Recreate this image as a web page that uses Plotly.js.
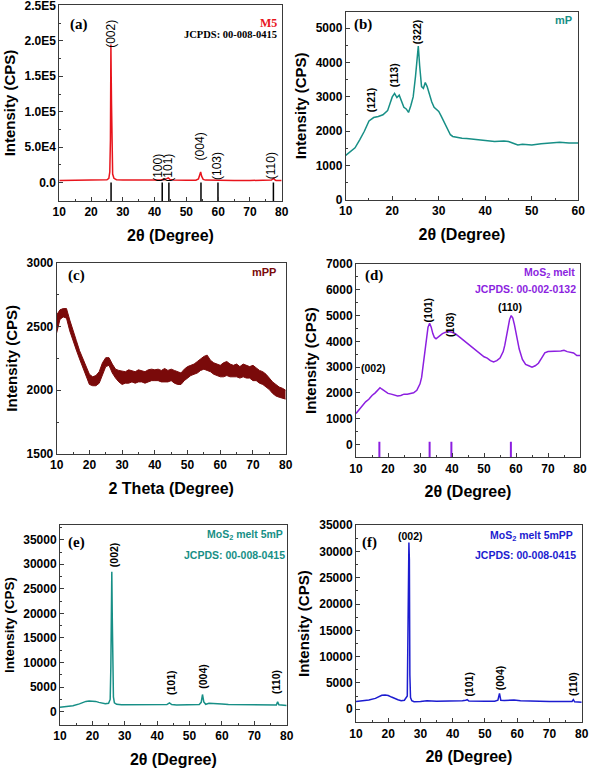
<!DOCTYPE html>
<html><head><meta charset="utf-8">
<script src="https://cdn.plot.ly/plotly-3.0.1.min.js"></script>
<style>html,body{margin:0;padding:0;background:#fff}#chart{width:591px;height:771px}</style>
</head><body><div id="chart"></div>
<script>
// ---------- (a) M5 ----------
const aX = [10,15,20,24,25,25.6,25.9,26.1,26.25,26.35,26.45,26.6,26.8,27.2,28,30,35,40,42,42.5,43,43.8,44.3,44.8,46,50,53,53.8,54.2,54.5,54.8,55.3,56,58,60,65,70,75,76.8,77.2,77.5,77.8,78.2,80];
const aY = [3000,3200,3300,3600,4000,6000,15000,60000,195000,150000,110000,40000,12000,6000,4000,3500,3200,3300,3800,4200,4000,5500,6500,4500,3500,3200,3300,5000,11000,15000,9000,4500,3500,3200,3100,3000,3000,2900,3500,5000,6000,4000,3000,2800];
const aSticks = [26.3,42.4,44.5,54.6,59.95,77.4];
const aYTickVals = [0,50000,100000,150000,200000,250000];
const aYTickText = ['0.0','5.0E4','1.0E5','1.5E5','2.0E5','2.5E5'];
const aPeakLbl = ['(002)','(100)','(101)','(004)','(103)','(110)'];

// ---------- (b) mP ----------
const bX = [10,11,12,13,14,15,16,17,18,19,19.5,20,20.5,21,21.5,22,22.5,23,23.5,24,24.5,25,25.3,25.6,25.9,26.3,26.7,27.1,27.5,28,28.5,29,29.5,30,30.5,31,31.5,32,32.5,33,34,35,36,38,40,42,44,45,46,47,48,50,52,54,56,58,60];
const bY = [1300,1400,1520,1750,2000,2300,2400,2430,2480,2600,2800,3000,3100,2980,3050,2850,2700,2650,2550,2750,3000,3600,4100,4480,3900,3300,3250,3420,3300,3050,2850,2700,2650,2580,2450,2300,2150,2000,1900,1850,1820,1800,1790,1760,1720,1700,1720,1700,1650,1600,1620,1600,1640,1660,1680,1660,1660];
const bPeakLbl = ['(121)','(113)','(322)'];

// ---------- (c) mPP (noisy band: upper / lower envelope) ----------
const cX = [10,11,12,13,14,15,16,17,18,19,20,21,22,23,24,25,26,27,28,29,30,31,32,33,34,35,36,37,38,39,40,41,42,43,44,45,46,47,48,49,50,51,52,53,54,55,56,57,58,59,60,61,62,63,64,65,66,67,68,69,70,71,72,73,74,75,76,77,78,79,80];
const cHi = [2590,2630,2640,2640,2550,2460,2390,2310,2250,2190,2125,2105,2115,2145,2215,2255,2255,2205,2165,2155,2150,2145,2160,2155,2145,2160,2155,2145,2160,2165,2160,2165,2155,2170,2155,2165,2155,2145,2135,2165,2185,2195,2205,2225,2245,2265,2275,2235,2215,2205,2195,2215,2225,2205,2195,2205,2185,2205,2195,2185,2195,2175,2155,2145,2125,2095,2065,2045,2025,2015,2000];
const cLo = [2450,2555,2575,2565,2465,2385,2315,2245,2175,2115,2045,2035,2035,2055,2115,2185,2195,2135,2095,2065,2045,2055,2055,2065,2055,2065,2065,2055,2065,2075,2075,2075,2065,2065,2065,2075,2055,2045,2045,2075,2095,2115,2125,2135,2155,2165,2155,2145,2125,2115,2105,2105,2115,2105,2105,2105,2095,2105,2095,2095,2075,2075,2055,2045,2025,2005,1975,1955,1945,1935,1930];

// ---------- (d) MoS2 melt ----------
const dX = [10,11,12,13,14,15,16,17,17.5,18,19,20,21,22,23,24,25,26,27,28,29,29.5,30,30.5,31,31.5,32,32.5,33,33.5,34,34.5,35,35.5,36,37,38,39,40,41,42,43,44,45,46,47,48,49,50,51,52,53,54,55,56,56.5,57,57.5,58,58.5,59,59.5,60,60.5,61,62,63,64,65,66,67,68,69,70,72,74,75,76,78,79,80];
const dY = [1200,1350,1500,1650,1750,1900,2000,2150,2200,2150,2050,1980,1950,1900,1880,1900,1950,1950,1980,2000,2100,2200,2350,2600,3100,3700,4200,4550,4700,4550,4300,4150,4100,4150,4200,4300,4350,4380,4350,4300,4200,4100,4000,3900,3800,3700,3600,3500,3400,3350,3250,3200,3250,3350,3600,3850,4150,4500,4850,5000,4900,4650,4350,4000,3700,3300,3100,3050,3000,3050,3150,3350,3550,3600,3600,3620,3650,3600,3550,3450,3450];
const dSticks = [17.3,33.0,39.8,58.4];
const dPeakLbl = ['(002)','(101)','(103)','(110)'];

// ---------- (e) MoS2 melt 5mP ----------
const eX = [10,12,14,16,17,18,19,20,21,22,23,24,25,25.5,25.7,25.85,26.0,26.15,26.3,26.5,26.8,27.5,29,32,35,40,42,43,43.8,44.5,46,50,53,53.6,54.0,54.4,55,56,58,60,62,65,70,75,76.8,77.2,77.6,80];
const eY = [900,1000,1200,1600,1900,2100,2200,2200,2100,1900,1700,1600,1700,2500,9000,20000,28500,19000,8500,3000,1800,1500,1400,1400,1350,1300,1350,1450,1800,1450,1350,1350,1450,1900,3500,2000,1500,1700,1700,1550,1450,1400,1350,1350,1350,2000,1400,1250];
const ePeakLbl = ['(002)','(101)','(004)','(110)'];

// ---------- (f) MoS2 melt 5mPP ----------
const fX = [10,12,14,16,17,18,19,20,21,22,23,24,25,25.9,26.2,26.4,26.55,26.7,26.9,27.3,28,30,32,35,40,42,43,44,44.5,45,47,50,53,54,54.5,54.9,56,58,59,61,65,70,75,77,77.4,77.8,80];
const fY = [1450,1550,1750,2050,2350,2650,2700,2600,2300,2000,1800,1600,1700,2500,18000,31700,28500,6500,2200,1600,1400,1450,1600,1500,1500,1550,1600,1700,1800,1550,1500,1500,1500,1700,3000,1700,1650,1800,1750,1600,1500,1450,1450,1450,1800,1400,1300];
const fPeakLbl = ['(002)','(101)','(004)','(110)'];

// ---------- styles ----------
const SANS = 'Liberation Sans, Arial, sans-serif';
const SERIF = 'Liberation Serif, Times New Roman, serif';
const C = {a:'#e8141c', b:'#178f86', c:'#7a0a0a', d:'#8c1fe0', e:'#178f86', f:'#1c1cd0'};
const AXC = '#3a3a3a';

function sticks(pos, y0, y1){
  const x=[], y=[];
  pos.forEach(p=>{x.push(p,p,null); y.push(y0,y1,null);});
  return {x, y};
}

function xax(domain, anchor, range, title){
  return {domain, anchor, range, showline:true, linecolor:AXC, linewidth:1, mirror:true,
    ticks:'inside', ticklen:4, tickcolor:AXC, tickmode:'linear', tick0:0, dtick:10,
    minor:{ticks:'inside', ticklen:2, tickcolor:AXC, tickmode:'linear', tick0:0, dtick:5},
    showgrid:false, zeroline:false, automargin:false, ticklabeloverflow:'allow',
    tickfont:{family:SANS, size:12, weight:'bold', color:'#000'},
    title:{text:title, font:{family:SANS, size:16, weight:'bold', color:'#000'}, standoff:11}};
}
function yax(domain, anchor, range, dtick, tsize, extra){
  const o = {domain, anchor, range, showline:true, linecolor:AXC, linewidth:1, mirror:true,
    ticks:'inside', ticklen:4, tickcolor:AXC, tickmode:'linear', tick0:0, dtick, tickformat:'d',
    minor:{ticks:'inside', ticklen:2, tickcolor:AXC, tickmode:'linear', tick0:0, dtick:dtick/2},
    showgrid:false, zeroline:false, automargin:false, ticklabeloverflow:'allow',
    tickfont:{family:SANS, size:12, weight:'bold', color:'#000'},
    title:{text:'Intensity (CPS)', font:{family:SANS, size:tsize, weight:'bold', color:'#000'}, standoff:5}};
  return Object.assign(o, extra||{});
}

const sa = sticks(aSticks, -26000, 0);
const sd = sticks(dSticks, -500, 100);

const traces = [
  {x:aX, y:aY, xaxis:'x', yaxis:'y', mode:'lines', line:{color:C.a, width:1.5}},
  {x:sa.x, y:sa.y, xaxis:'x', yaxis:'y', mode:'lines', line:{color:'#000', width:1.5}},
  {x:bX, y:bY, xaxis:'x2', yaxis:'y2', mode:'lines', line:{color:C.b, width:1.5}},
  {x:cX, y:cHi, xaxis:'x3', yaxis:'y3', mode:'lines', line:{color:C.c, width:1}},
  {x:cX, y:cLo, xaxis:'x3', yaxis:'y3', mode:'lines', line:{color:C.c, width:1}, fill:'tonexty', fillcolor:C.c},
  {x:dX, y:dY, xaxis:'x4', yaxis:'y4', mode:'lines', line:{color:C.d, width:1.5}},
  {x:sd.x, y:sd.y, xaxis:'x4', yaxis:'y4', mode:'lines', line:{color:C.d, width:2}},
  {x:eX, y:eY, xaxis:'x5', yaxis:'y5', mode:'lines', line:{color:C.e, width:1.5}},
  {x:fX, y:fY, xaxis:'x6', yaxis:'y6', mode:'lines', line:{color:C.f, width:1.5}}
];

// peak-label placement (layout only)
const peakPos = {
  a:{ax:'', x:[26.3,41.2,44.3,54.3,59.6,76.9], y:[210000,21400,21400,51100,23200,24200], rot:[1,1,1,1,1,1], size:12, weight:'normal'},
  b:{ax:'2', x:[15.4,20.45,25.3], y:[2930,3640,4910], rot:[1,1,1], size:10.5, weight:'bold'},
  d:{ax:'4', x:[15.6,32.6,39.4,58.1], y:[2950,5210,4640,5340], rot:[0,1,1,0], size:10.5, weight:'bold'},
  e:{ax:'5', x:[26.5,44.5,54.2,76.9], y:[31940,5990,7130,5990], rot:[1,1,1,1], size:10.5, weight:'bold'},
  f:{ax:'6', x:[26.75,45.0,54.7,77.1], y:[32940,4830,5910,4830], rot:[0,1,1,1], size:10.5, weight:'bold'}
};
const peakLbls = {a:aPeakLbl, b:bPeakLbl, d:dPeakLbl, e:ePeakLbl, f:fPeakLbl};

const ann = [];
Object.keys(peakPos).forEach(k=>{
  const p = peakPos[k];
  peakLbls[k].forEach((t,i)=>{
    ann.push({text:t, x:p.x[i], y:p.y[i], xref:'x'+p.ax, yref:'y'+p.ax, showarrow:false,
      textangle:p.rot[i]?-90:0, xanchor:'center', yanchor:'middle',
      font:{family:SANS, size:p.size, weight:p.weight, color:'#000'}});
  });
});

function pann(text, px, py, anchor, font){
  ann.push({text, x:px/591, y:1-py/771, xref:'paper', yref:'paper', showarrow:false,
    xanchor:anchor, yanchor:'middle', font});
}
const panelFont = {family:SERIF, size:15, weight:'bold', color:'#000'};
pann('(a)', 68, 25, 'left', panelFont);
pann('(b)', 352, 25, 'left', panelFont);
pann('(c)', 66, 275, 'left', panelFont);
pann('(d)', 363, 275, 'left', panelFont);
pann('(e)', 66, 542, 'left', panelFont);
pann('(f)', 360, 542, 'left', panelFont);

pann('M5', 279, 23, 'right', {family:SERIF, size:12, weight:'bold', color:C.a});
pann('JCPDS: 00-008-0415', 279, 34.5, 'right', {family:SERIF, size:10.5, weight:'bold', color:'#000'});
pann('mP', 574, 19.5, 'right', {family:SANS, size:11, weight:'bold', color:C.b});
pann('mPP', 278, 272, 'right', {family:SANS, size:11, weight:'bold', color:C.c});
pann('MoS<sub>2</sub> melt', 577, 273, 'right', {family:SANS, size:10.5, weight:'bold', color:C.d});
pann('JCPDS: 00-002-0132', 578, 289, 'right', {family:SANS, size:10.5, weight:'bold', color:C.d});
pann('MoS<sub>2</sub> melt 5mP', 285, 535, 'right', {family:SANS, size:10.5, weight:'bold', color:C.e});
pann('JCPDS: 00-008-0415', 286.5, 554.5, 'right', {family:SANS, size:10.5, weight:'bold', color:C.e});
pann('MoS<sub>2</sub> melt 5mPP', 575, 536, 'right', {family:SANS, size:10.5, weight:'bold', color:C.f});
pann('JCPDS: 00-008-0415', 578, 554.5, 'right', {family:SANS, size:10.5, weight:'bold', color:C.f});

const layout = {
  width:591, height:771, margin:{l:0,r:0,t:0,b:0}, showlegend:false,
  paper_bgcolor:'#fff', plot_bgcolor:'#fff',
  xaxis:  xax([0.1003,0.4766], 'y',  [10,80], '2θ (Degree)'),
  yaxis:  yax([0.7393,0.9935], 'x',  [-26000,250600], 50000, 15,
           {tickmode:'array', tickvals:aYTickVals, ticktext:aYTickText}),
  xaxis2: xax([0.5850,0.9785], 'y2', [10,60], '2θ (Degree)'),
  yaxis2: yax([0.7406,0.9848], 'x2', [0,5480], 1000, 15),
  xaxis3: xax([0.0959,0.4834], 'y3', [10,80], '2 Theta (Degree)'),
  yaxis3: yax([0.4112,0.6593], 'x3', [1500,3000], 500, 15),
  xaxis4: xax([0.6024,0.9814], 'y4', [10,80], '2θ (Degree)'),
  yaxis4: yax([0.4069,0.6576], 'x4', [-500,7000], 1000, 15),
  xaxis5: xax([0.1015,0.4851], 'y5', [10,80], '2θ (Degree)'),
  yaxis5: yax([0.0597,0.3191], 'x5', [-2700,38000], 5000, 13.5),
  xaxis6: xax([0.6024,0.9843], 'y6', [10,80], '2θ (Degree)'),
  yaxis6: yax([0.0632,0.3191], 'x6', [-2500,35050], 5000, 15),
  annotations: ann
};
Plotly.newPlot('chart', traces, layout, {staticPlot:true, displayModeBar:false});
</script></body></html>
